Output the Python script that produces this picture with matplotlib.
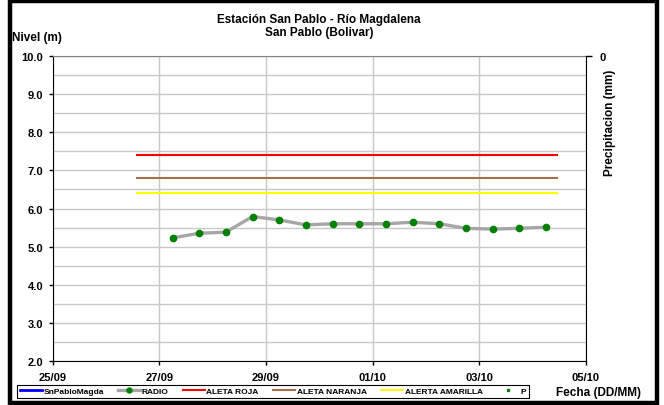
import matplotlib
matplotlib.use("Agg")
import matplotlib.pyplot as plt
import matplotlib.dates as mdates
import matplotlib.ticker as ticker
from matplotlib.patches import Rectangle
import pandas as pd

plt.rcParams["font.family"] = ["Liberation Sans", "DejaVu Sans"]
plt.rcParams["font.weight"] = "bold"

# ── datos ────────────────────────────────────────────────────────────────
radio_fechas = [
    "2024-09-27 06:00", "2024-09-27 18:00", "2024-09-28 06:00", "2024-09-28 18:00",
    "2024-09-29 06:00", "2024-09-29 18:00", "2024-09-30 06:00", "2024-09-30 18:00",
    "2024-10-01 06:00", "2024-10-01 18:00", "2024-10-02 06:00", "2024-10-02 18:00",
    "2024-10-03 06:00", "2024-10-03 18:00", "2024-10-04 06:00",
]
radio_nivel = [5.23, 5.35, 5.38, 5.79, 5.70, 5.57, 5.60, 5.60,
               5.60, 5.64, 5.60, 5.48, 5.46, 5.48, 5.51]

umbral_fechas = ["2024-09-26 14:00", "2024-10-04 11:00"]
aleta_roja = [7.4, 7.4]
aleta_naranja = [6.8, 6.8]
alerta_amarilla = [6.4, 6.4]

x_ini, x_fin = "2024-09-25", "2024-10-05"

rx = pd.to_datetime(radio_fechas)
ux = pd.to_datetime(umbral_fechas)

# ── figura ───────────────────────────────────────────────────────────────
fig = plt.figure(figsize=(6.64, 4.06), dpi=100)
ax = fig.add_axes([52.5 / 664, 1 - 362 / 406, (586 - 52.5) / 664, (362 - 57) / 406])

ax.plot([], [], color="#0000ff", lw=2, label="SnPabloMagda")
ax.plot(rx, radio_nivel, color="#a6a6a6", lw=2.4, marker="o", ms=4.5,
        mfc="#008000", mec="#008000", label="RADIO", zorder=4)
ax.plot(ux, aleta_roja, color="#ff0000", lw=1.5, label="ALETA ROJA", zorder=3)
ax.plot(ux, aleta_naranja, color="#a0714a", lw=1.5, label="ALETA NARANJA", zorder=3)
ax.plot(ux, alerta_amarilla, color="#ffff00", lw=1.5, label="ALERTA AMARILLA", zorder=3)
ax.plot([], [], ls="none", marker="s", ms=2.5, color="#008000", label="P")

ax.set_xlim(pd.Timestamp(x_ini), pd.Timestamp(x_fin))
ax.set_ylim(2.0, 10.0)
ax.xaxis.set_major_locator(mdates.DayLocator(interval=2))
ax.xaxis.set_major_formatter(mdates.DateFormatter("%d/%m"))
ax.yaxis.set_major_locator(ticker.MultipleLocator(1.0))
ax.yaxis.set_minor_locator(ticker.MultipleLocator(0.5))
ax.yaxis.set_major_formatter(ticker.FormatStrFormatter("%.1f"))

ax.grid(which="both", axis="y", color="#c8c8c8", lw=1.0, zorder=0)
ax.grid(which="major", axis="x", color="#c8c8c8", lw=1.0, zorder=0)
ax.set_axisbelow(True)
ax.tick_params(axis="both", which="major", length=3, width=1, labelsize=8, colors="black")
ax.tick_params(axis="x", which="major", pad=5)
ax.tick_params(axis="y", which="minor", length=0)
for lab in ax.get_xticklabels() + ax.get_yticklabels():
    lab.set_fontweight("bold")
ax.spines["left"].set_color("black")
ax.spines["bottom"].set_color("black")
ax.spines["top"].set_color("#808080")
ax.spines["right"].set_visible(False)

# eje secundario de precipitación (invertido)
ax2 = ax.twinx()
ax2.set_ylim(1, 0)
ax2.set_yticks([0])
ax2.set_yticklabels(["0"], fontweight="bold", fontsize=8)
ax2.tick_params(axis="y", length=4, width=1, pad=6)
ax2.spines["right"].set_color("black")
for s in ("left", "top", "bottom"):
    ax2.spines[s].set_visible(False)

# ── textos ───────────────────────────────────────────────────────────────
fig.text(319 / 664, 1 - 20 / 406, "Estación San Pablo - Río Magdalena",
         ha="center", va="center", fontsize=8.5, fontweight="bold")
fig.text(319 / 664, 1 - 33 / 406, "San Pablo (Bolivar)",
         ha="center", va="center", fontsize=8.5, fontweight="bold")
fig.text(12 / 664, 1 - 38 / 406, "Nivel (m)", ha="left", va="center",
         fontsize=8.5, fontweight="bold")
fig.text(610 / 664, 1 - 123 / 406, "Precipitacion (mm)", rotation=90,
         ha="center", va="center", fontsize=8.5, fontweight="bold")
fig.text(598 / 664, 1 - 393 / 406, "Fecha (DD/MM)", ha="center", va="center",
         fontsize=8.5, fontweight="bold")

# leyenda
h, l = ax.get_legend_handles_labels()
leg = fig.legend(h, l, loc="center", bbox_to_anchor=(273 / 664, 1 - 392.5 / 406),
                 ncol=6, fontsize=6, frameon=True, fancybox=False,
                 edgecolor="black", handlelength=2.6, handletextpad=0.2,
                 columnspacing=1.75, borderpad=0.35, framealpha=1, markerscale=0.8)
leg.get_frame().set_linewidth(0.8)
for t in leg.get_texts():
    t.set_fontweight("bold")

# marco exterior
fig.patches.append(Rectangle((9.5 / 664, 2 / 406), 647 / 664, 402 / 406,
                             transform=fig.transFigure, fill=False,
                             edgecolor="black", lw=3.2))

fig.savefig("out.png", dpi=100)
